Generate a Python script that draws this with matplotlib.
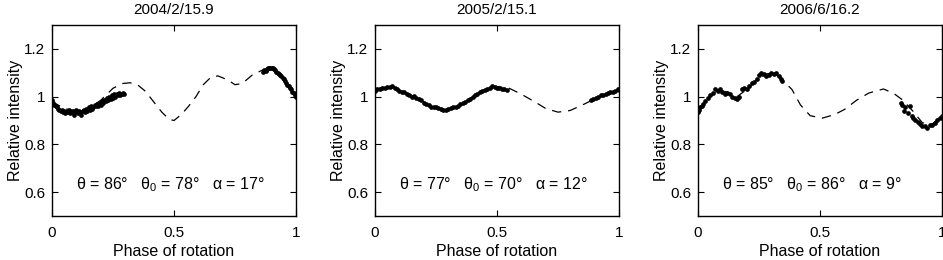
import matplotlib
matplotlib.use('Agg')
import matplotlib.pyplot as plt

plt.rcParams['font.family'] = ['Liberation Sans', 'DejaVu Sans']
plt.rcParams['mathtext.fontset'] = 'custom'
plt.rcParams['mathtext.rm'] = 'Liberation Sans'
plt.rcParams['mathtext.it'] = 'Liberation Sans'
plt.rcParams['font.size'] = 10

titles = ['2004/2/15.9', '2005/2/15.1', '2006/6/16.2']
labels = [r'$\theta$ = 86°   $\theta_0$ = 78°   $\alpha$ = 17°',
          r'$\theta$ = 77°   $\theta_0$ = 70°   $\alpha$ = 12°',
          r'$\theta$ = 85°   $\theta_0$ = 86°   $\alpha$ = 9°']

# modelo (linea discontinua)
model1_x = [0.0, 0.05, 0.1, 0.15, 0.2, 0.25, 0.29, 0.32, 0.35, 0.38, 0.41, 0.45, 0.48, 0.5,
            0.53, 0.56, 0.59, 0.62, 0.65, 0.68, 0.72, 0.75, 0.78, 0.82, 0.86, 0.9, 0.95, 1.0]
model1_y = [0.98, 0.95, 0.94, 0.95, 0.985, 1.035, 1.055, 1.058, 1.05, 1.025, 0.987, 0.935, 0.905, 0.9,
            0.925, 0.96, 1.0, 1.05, 1.08, 1.087, 1.07, 1.05, 1.055, 1.09, 1.11, 1.12, 1.075, 1.0]
model2_x = [0.0, 0.03, 0.07, 0.12, 0.18, 0.23, 0.28, 0.33, 0.38, 0.43, 0.48, 0.52, 0.55, 0.6,
            0.66, 0.7, 0.75, 0.8, 0.85, 0.9, 0.95, 1.0]
model2_y = [1.03, 1.038, 1.045, 1.02, 0.99, 0.96, 0.942, 0.955, 0.985, 1.02, 1.043, 1.04, 1.035, 1.01,
            0.975, 0.95, 0.935, 0.942, 0.965, 0.99, 1.01, 1.03]
model3_x = [0.0, 0.04, 0.08, 0.12, 0.16, 0.2, 0.24, 0.28, 0.31, 0.34, 0.385, 0.42, 0.46, 0.51,
            0.56, 0.6, 0.65, 0.7, 0.76, 0.8, 0.84, 0.88, 0.92, 0.96, 1.0]
model3_y = [0.94, 0.99, 1.025, 1.02, 1.0, 1.03, 1.07, 1.095, 1.1, 1.075, 1.03, 0.965, 0.92, 0.91,
            0.925, 0.946, 0.985, 1.015, 1.032, 1.015, 0.985, 0.94, 0.89, 0.885, 0.92]

# datos observados (puntos)
obs1_x = [0.0, 0.005, 0.01, 0.015, 0.02, 0.025, 0.03, 0.035, 0.04, 0.045, 0.05, 0.055, 0.06, 0.065,
          0.07, 0.075, 0.08, 0.085, 0.09, 0.095, 0.1, 0.105, 0.11, 0.115, 0.12, 0.125, 0.13, 0.135,
          0.14, 0.145, 0.15, 0.155, 0.16, 0.165, 0.17, 0.175, 0.18, 0.185, 0.19, 0.195, 0.2, 0.205,
          0.21, 0.215, 0.22, 0.225, 0.23, 0.235, 0.24, 0.245, 0.25, 0.255, 0.26, 0.265, 0.27, 0.275,
          0.28, 0.285, 0.29, 0.295,
          0.865, 0.87, 0.875, 0.88, 0.885, 0.89, 0.895, 0.9, 0.905, 0.91, 0.915, 0.92, 0.925, 0.93,
          0.935, 0.94, 0.945, 0.95, 0.955, 0.96, 0.965, 0.97, 0.975, 0.98, 0.985, 0.99, 0.995, 1.0]
obs1_y = [0.985, 0.975, 0.965, 0.96, 0.955, 0.95, 0.945, 0.94, 0.945, 0.935, 0.94, 0.93, 0.94, 0.935,
          0.945, 0.93, 0.935, 0.94, 0.925, 0.935, 0.945, 0.93, 0.94, 0.935, 0.925, 0.94, 0.945, 0.935,
          0.95, 0.94, 0.955, 0.945, 0.96, 0.95, 0.955, 0.965, 0.96, 0.97, 0.96, 0.975, 0.965, 0.98,
          0.975, 0.985, 0.98, 0.995, 0.985, 1.0, 0.99, 1.005, 0.995, 1.01, 1.0, 1.01, 1.005, 1.015,
          1.005, 1.01, 1.015, 1.01,
          1.105, 1.11, 1.108, 1.115, 1.118, 1.12, 1.118, 1.12, 1.118, 1.115, 1.11, 1.105, 1.1, 1.095,
          1.09, 1.085, 1.08, 1.072, 1.065, 1.058, 1.05, 1.045, 1.038, 1.03, 1.02, 1.015, 1.008, 1.0]
obs2_x = [0.0, 0.01, 0.02, 0.03, 0.04, 0.05, 0.06, 0.07, 0.08, 0.09, 0.1, 0.11, 0.12, 0.13, 0.14,
          0.15, 0.16, 0.17, 0.18, 0.19, 0.2, 0.21, 0.22, 0.23, 0.24, 0.25, 0.26, 0.27, 0.28, 0.29,
          0.3, 0.31, 0.32, 0.33, 0.34, 0.35, 0.36, 0.37, 0.38, 0.39, 0.4, 0.41, 0.42, 0.43, 0.44,
          0.45, 0.46, 0.47, 0.48, 0.49, 0.5, 0.51, 0.52, 0.53, 0.54,
          0.885, 0.895, 0.905, 0.915, 0.925, 0.935, 0.945, 0.955, 0.965, 0.975, 0.985, 0.995, 1.0]
obs2_y = [1.025, 1.03, 1.03, 1.035, 1.035, 1.04, 1.042, 1.045, 1.038, 1.032, 1.025, 1.02, 1.02, 1.012, 1.005,
          1.0, 1.002, 0.995, 0.99, 0.985, 0.975, 0.97, 0.965, 0.958, 0.955, 0.955, 0.952, 0.95, 0.942, 0.945,
          0.948, 0.952, 0.955, 0.958, 0.962, 0.968, 0.972, 0.978, 0.985, 0.99, 0.998, 1.005, 1.01, 1.018, 1.022,
          1.028, 1.033, 1.038, 1.043, 1.04, 1.036, 1.035, 1.032, 1.03, 1.027,
          0.985, 0.99, 0.995, 1.0, 1.005, 1.008, 1.012, 1.015, 1.018, 1.02, 1.025, 1.03, 1.028]
obs3_x = [0.0, 0.005, 0.01, 0.015, 0.02, 0.03, 0.04, 0.05, 0.06, 0.07, 0.08, 0.09, 0.1, 0.11,
          0.12, 0.13, 0.14, 0.15, 0.16, 0.17, 0.18, 0.19, 0.2, 0.21, 0.22, 0.23, 0.24, 0.25,
          0.26, 0.27, 0.28, 0.29, 0.3, 0.31, 0.32, 0.33, 0.34, 0.345,
          0.83, 0.836, 0.845, 0.85, 0.86, 0.87, 0.875, 0.883, 0.89, 0.9, 0.91, 0.92, 0.93,
          0.94, 0.95, 0.96, 0.97, 0.98, 0.99, 1.0]
obs3_y = [0.935, 0.945, 0.955, 0.96, 0.97, 0.98, 0.995, 1.005, 1.015, 1.03, 1.025, 1.03, 1.02, 1.01,
          1.015, 1.01, 1.0, 0.995, 0.99, 1.0, 1.03, 1.035, 1.03, 1.045, 1.055, 1.06, 1.075, 1.09,
          1.1, 1.095, 1.085, 1.09, 1.1, 1.095, 1.1, 1.085, 1.075, 1.065,
          0.974, 0.965, 0.94, 0.955, 0.93, 0.96, 0.92, 0.91, 0.9, 0.895, 0.885, 0.876, 0.875,
          0.87, 0.883, 0.88, 0.89, 0.9, 0.911, 0.92]

models = [(model1_x, model1_y), (model2_x, model2_y), (model3_x, model3_y)]
obs = [(obs1_x, obs1_y), (obs2_x, obs2_y), (obs3_x, obs3_y)]
lefts = [52 / 943, 375 / 943, 698 / 943]

fig = plt.figure(figsize=(9.43, 2.6), dpi=100)
for i in range(3):
    ax = fig.add_axes([lefts[i], 44 / 260, 244 / 943, 191 / 260])
    ax.plot(models[i][0], models[i][1], color='black', linewidth=0.9, dashes=(7.5, 5.5))
    ax.plot(obs[i][0], obs[i][1], 'o', color='black', markersize=3.4, markeredgewidth=0)
    ax.set_xlim(0, 1)
    ax.set_ylim(0.5, 1.3)
    ax.set_xticks([0, 0.5, 1])
    ax.set_xticklabels(['0', '0.5', '1'])
    ax.set_yticks([0.6, 0.8, 1, 1.2])
    ax.set_yticklabels(['0.6', '0.8', '1', '1.2'])
    ax.tick_params(direction='in', top=True, right=True, length=4, labelsize=11)
    ax.tick_params(axis='x', pad=7)
    ax.tick_params(axis='y', pad=5)
    for s in ax.spines.values():
        s.set_linewidth(1.0)
    ax.set_title(titles[i], fontsize=11, pad=8)
    ax.set_xlabel('Phase of rotation', fontsize=11.5, labelpad=3)
    ax.set_ylabel('Relative intensity', fontsize=11.5, labelpad=1)
    ax.text(0.1, 0.612, labels[i], fontsize=11.5, ha='left', va='baseline')

fig.savefig('out.png', dpi=100)
